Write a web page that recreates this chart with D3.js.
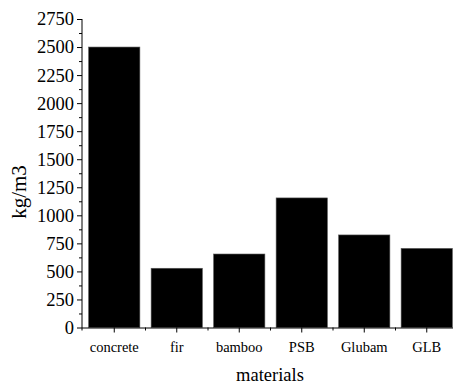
<!DOCTYPE html>
<html><head><meta charset="utf-8">
<script src="https://cdn.jsdelivr.net/npm/d3@7"></script>
<style>body{margin:0;background:#fff}svg{display:block}</style>
</head><body>
<script>
const categories = ["concrete","fir","bamboo","PSB","Glubam","GLB"];
const values = [2500, 528, 655, 1155, 825, 705];
const yTicks = [0,250,500,750,1000,1250,1500,1750,2000,2250,2500,2750];

const W = 456, H = 387;
const svg = d3.select("body").append("svg").attr("width", W).attr("height", H);
const font = "'Liberation Serif','Times New Roman',serif";

const x = d3.scaleBand().domain(categories).range([83, 458]).paddingInner(0.18).paddingOuter(0.09);
const y = d3.scaleLinear().domain([0, 2750]).range([327.5, 19]);

// bars
svg.selectAll("rect.bar").data(values).enter().append("rect")
  .attr("x", (d,i)=>x(categories[i]))
  .attr("y", d=>y(d))
  .attr("width", x.bandwidth())
  .attr("height", d=>y(0)-y(d))
  .attr("fill", "#000")
  .attr("stroke","#555").attr("stroke-width",0.6);

// y axis
const yAxis = d3.axisLeft(y).tickValues(yTicks).tickSize(5).tickPadding(3).tickFormat(d3.format("d"));
const gy = svg.append("g").attr("transform","translate(82,0)").call(yAxis);
gy.select(".domain").remove();
gy.append("line").attr("x1",0).attr("x2",0).attr("y1",y(2750)).attr("y2",y(0)+3).attr("stroke","#000");
gy.selectAll("text").attr("font-family",font).attr("font-size",18.5).attr("fill","#000");
// minor y ticks
const minor = yTicks.slice(0,-1).map(d=>d+125);
gy.selectAll("line.minor").data(minor).enter().append("line").attr("class","minor")
  .attr("x1",-3).attr("x2",0).attr("y1",d=>y(d)+0.5).attr("y2",d=>y(d)+0.5).attr("stroke","#000");

// x axis
const xAxis = d3.axisBottom(x).tickSize(5).tickPadding(9);
const gx = svg.append("g").attr("transform",`translate(0,${y(0)})`).call(xAxis);
gx.select(".domain").remove();
gx.append("line").attr("x1",82).attr("x2",453).attr("y1",0.5).attr("y2",0.5).attr("stroke","#000");
gx.selectAll("text").attr("font-family",font).attr("font-size",14.5).attr("fill","#000");
const bounds = categories.slice(1).map(c=>x(c) - x.step()*x.paddingInner()/2);
gx.selectAll("line.minor").data(bounds).enter().append("line").attr("class","minor")
  .attr("x1",d=>d).attr("x2",d=>d).attr("y1",0).attr("y2",3).attr("stroke","#000");

// titles
svg.append("text").attr("x",270).attr("y",381).attr("text-anchor","middle")
  .attr("font-family",font).attr("font-size",18.5).text("materials");
svg.append("text").attr("transform","translate(26,192) rotate(-90)").attr("text-anchor","middle")
  .attr("font-family",font).attr("font-size",21).text("kg/m3");
</script>
</body></html>
